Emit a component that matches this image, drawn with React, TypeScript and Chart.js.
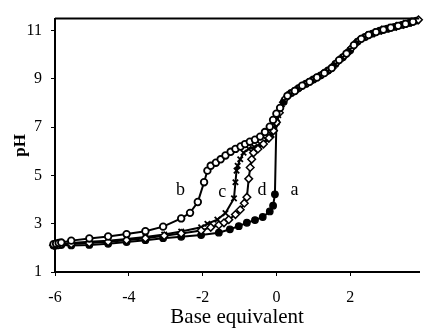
import React, { useEffect, useRef } from "react";
import { Chart, registerables } from "chart.js";

Chart.register(...registerables);

const xTickValues = [-6, -4, -2, 0, 2];
const yTickValues = [1, 3, 5, 7, 9, 11];

const aX = [-6.04, -5.97, -5.9, -5.83, -5.56, -5.07, -4.56, -4.06, -3.55, -3.07, -2.58, -2.04, -1.56, -1.26, -1.02, -0.8, -0.58, -0.37, -0.18, -0.09, -0.04, 0.0, 0.2, 0.4, 0.6, 0.8, 1.0, 1.2, 1.4, 1.6, 1.8, 2.0, 2.2, 2.4, 2.6, 2.8, 3.0, 3.2, 3.4, 3.6, 3.8];
const aY = [2.1, 2.1, 2.12, 2.12, 2.1, 2.12, 2.17, 2.24, 2.32, 2.4, 2.46, 2.53, 2.63, 2.77, 2.9, 3.04, 3.15, 3.28, 3.51, 3.75, 4.22, 7.2, 8.05, 8.42, 8.62, 8.8, 8.98, 9.15, 9.35, 9.62, 9.9, 10.19, 10.55, 10.74, 10.88, 11.0, 11.08, 11.16, 11.24, 11.32, 11.42];

const bX = [-6.04, -5.97, -5.9, -5.83, -5.56, -5.07, -4.56, -4.06, -3.55, -3.07, -2.58, -2.34, -2.13, -1.96, -1.87, -1.78, -1.64, -1.51, -1.38, -1.24, -1.11, -0.97, -0.85, -0.72, -0.58, -0.44, -0.31, -0.18, -0.09, 0.0, 0.1, 0.3, 0.5, 0.7, 0.9, 1.1, 1.3, 1.5, 1.7, 1.9, 2.1, 2.3, 2.5, 2.7, 2.9, 3.1, 3.3, 3.5, 3.7];
const bY = [2.15, 2.17, 2.2, 2.22, 2.3, 2.39, 2.47, 2.57, 2.69, 2.88, 3.22, 3.45, 3.9, 4.72, 5.2, 5.4, 5.53, 5.67, 5.83, 5.98, 6.1, 6.2, 6.3, 6.4, 6.48, 6.61, 6.8, 7.02, 7.3, 7.56, 7.8, 8.3, 8.5, 8.72, 8.88, 9.06, 9.24, 9.45, 9.78, 10.05, 10.4, 10.66, 10.82, 10.94, 11.04, 11.12, 11.2, 11.28, 11.37];

const cX = [-6.04, -5.97, -5.9, -5.83, -5.56, -5.07, -4.56, -4.06, -3.55, -3.04, -2.58, -2.04, -1.87, -1.6, -1.38, -1.15, -1.11, -1.08, -1.05, -0.98, -0.89, -0.75, -0.6, -0.44, -0.27, -0.13, -0.04, 0.05, 0.15, 0.35, 0.55, 0.75, 0.95, 1.15, 1.35, 1.55, 1.75, 1.95, 2.15, 2.35, 2.55, 2.75, 2.95, 3.15, 3.35, 3.55, 3.75];
const cY = [2.12, 2.13, 2.15, 2.17, 2.2, 2.25, 2.3, 2.37, 2.45, 2.55, 2.68, 2.85, 3.0, 3.17, 3.44, 4.05, 4.72, 5.2, 5.4, 5.67, 5.94, 6.1, 6.18, 6.3, 6.48, 6.68, 6.95, 7.5, 7.95, 8.37, 8.56, 8.76, 8.93, 9.1, 9.3, 9.53, 9.84, 10.12, 10.48, 10.7, 10.85, 10.97, 11.06, 11.14, 11.22, 11.3, 11.4];

const dX = [-6.04, -5.97, -5.9, -5.83, -5.56, -5.07, -4.56, -4.06, -3.55, -3.04, -2.58, -2.04, -1.78, -1.56, -1.42, -1.29, -1.11, -0.98, -0.87, -0.8, -0.75, -0.71, -0.67, -0.62, -0.5, -0.35, -0.2, -0.08, 0.0, 0.08, 0.25, 0.45, 0.65, 0.85, 1.05, 1.25, 1.45, 1.65, 1.85, 2.05, 2.25, 2.45, 2.65, 2.85, 3.05, 3.25, 3.45, 3.65, 3.85];
const dY = [2.11, 2.12, 2.13, 2.15, 2.16, 2.2, 2.25, 2.32, 2.4, 2.5, 2.6, 2.72, 2.85, 2.95, 3.04, 3.17, 3.38, 3.58, 3.85, 4.1, 4.86, 5.33, 5.67, 5.94, 6.1, 6.3, 6.55, 6.85, 7.2, 7.6, 8.2, 8.46, 8.67, 8.84, 9.02, 9.2, 9.4, 9.7, 9.97, 10.3, 10.61, 10.78, 10.91, 11.02, 11.1, 11.18, 11.26, 11.35, 11.45];

const curveLabels = ["b", "c", "d", "a"];
const curveLabelX = [-2.6, -1.47, -0.39, 0.49];
const curveLabelY = [4.18, 4.12, 4.2, 4.19];

const SERIF = "'Liberation Serif', 'Times New Roman', serif";

const toPoints = (xs: number[], ys: number[]) => xs.map((x, i) => ({ x, y: ys[i] }));

export default function App() {
  const ref = useRef<HTMLCanvasElement | null>(null);

  useEffect(() => {
    document.body.style.margin = "0";
    const canvas = ref.current;
    if (!canvas) return;

    const framePlugin = {
      id: "frameAndLabels",
      afterDraw(chart: any) {
        const { ctx, chartArea, scales } = chart;
        ctx.save();
        ctx.strokeStyle = "#000";
        ctx.lineWidth = 2;
        ctx.beginPath();
        ctx.moveTo(chartArea.left, chartArea.top);
        ctx.lineTo(chartArea.right, chartArea.top);
        ctx.stroke();
        ctx.fillStyle = "#000";
        ctx.font = `18px ${SERIF}`;
        ctx.textAlign = "center";
        ctx.textBaseline = "alphabetic";
        curveLabels.forEach((t, i) => {
          ctx.fillText(t, scales.x.getPixelForValue(curveLabelX[i]), scales.y.getPixelForValue(curveLabelY[i]));
        });
        ctx.restore();
      },
    };

    const common = {
      showLine: true,
      borderColor: "#000",
      borderWidth: 2,
      pointBorderColor: "#000",
      clip: false as any,
    };

    const chart = new Chart(canvas, {
      type: "scatter",
      data: {
        datasets: [
          {
            ...common,
            label: "b",
            data: toPoints(bX, bY),
            pointStyle: "circle",
            pointRadius: 3.3,
            pointBackgroundColor: "#fff",
            pointBorderWidth: 1.8,
          },
          {
            ...common,
            label: "d",
            data: toPoints(dX, dY),
            pointStyle: "rectRot",
            pointRadius: 3.8,
            pointBackgroundColor: "#fff",
            pointBorderWidth: 1.5,
          },
          {
            ...common,
            label: "c",
            data: toPoints(cX, cY),
            pointStyle: "crossRot",
            pointRadius: 3.8,
            pointBackgroundColor: "#000",
            pointBorderWidth: 1.8,
          },
          {
            ...common,
            label: "a",
            data: toPoints(aX, aY),
            pointStyle: "circle",
            pointRadius: 3.3,
            pointBackgroundColor: "#000",
            pointBorderWidth: 1.2,
          },
        ],
      },
      options: {
        responsive: false,
        animation: false,
        layout: { padding: { top: 13, right: 0, left: 0, bottom: 0 } },
        plugins: {
          legend: { display: false },
          tooltip: { enabled: false },
        },
        scales: {
          x: {
            type: "linear",
            min: -6,
            max: 3.87,
            afterBuildTicks: (scale: any) => {
              scale.ticks = xTickValues.map((v) => ({ value: v }));
            },
            afterFit: (scale: any) => {
              scale.height = 56;
            },
            grid: {
              display: true,
              drawOnChartArea: false,
              drawTicks: true,
              tickLength: 4,
              color: "#000",
              lineWidth: 1,
            },
            border: { display: true, color: "#000", width: 2 },
            ticks: {
              color: "#000",
              font: { family: SERIF, size: 16 },
              padding: 12,
              maxRotation: 0,
              callback: (v: any) => String(v),
            },
            title: {
              display: true,
              text: "Base equivalent",
              color: "#000",
              font: { family: SERIF, size: 21, lineHeight: 1.0 },
              padding: { top: 0, bottom: 0 },
            },
          },
          y: {
            type: "linear",
            min: 1,
            max: 11.5,
            afterBuildTicks: (scale: any) => {
              scale.ticks = yTickValues.map((v) => ({ value: v }));
            },
            afterFit: (scale: any) => {
              scale.width = 55;
            },
            grid: {
              display: true,
              drawOnChartArea: false,
              drawTicks: true,
              tickLength: 4,
              color: "#000",
              lineWidth: 1,
            },
            border: { display: true, color: "#000", width: 2 },
            ticks: {
              color: "#000",
              font: { family: SERIF, size: 16 },
              padding: 9,
              callback: (v: any) => String(v),
            },
            title: {
              display: true,
              text: "pH",
              color: "#000",
              font: { family: SERIF, size: 17, weight: "bold" },
              padding: { top: 10, bottom: 0 },
            },
          },
        },
      },
      plugins: [framePlugin],
    });

    return () => chart.destroy();
  }, []);

  return (
    <div style={{ width: 425, height: 328, overflow: "hidden" }}>
      <canvas ref={ref} width={425} height={328} style={{ display: "block" }} />
    </div>
  );
}
